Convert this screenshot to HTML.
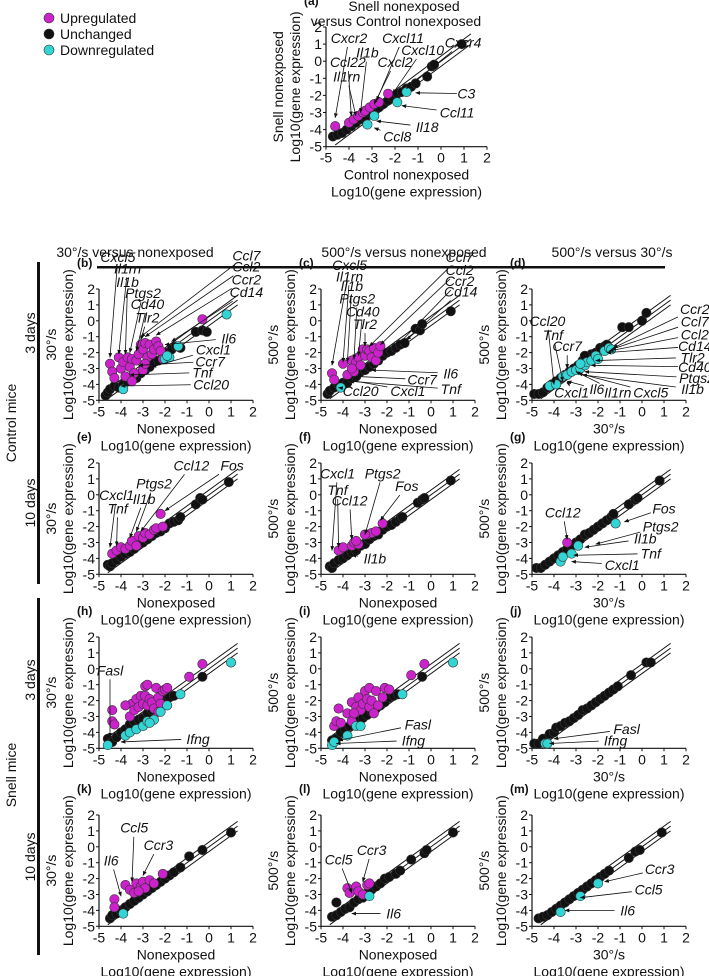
<!DOCTYPE html>
<html><head><meta charset="utf-8">
<style>
html,body{margin:0;padding:0;background:#fff;}
svg{display:block;font-family:"Liberation Sans",Arial,sans-serif;}
.tk{font-size:14px;fill:#111;}
.ti{font-size:14px;fill:#111;}
.an{font-size:14px;font-style:italic;fill:#111;}
.pl{font-size:12px;font-weight:bold;fill:#111;}
</style></head>
<body>
<svg id="fig" width="709" height="976" viewBox="0 0 709 976" xmlns="http://www.w3.org/2000/svg">
<defs><marker id="ah" viewBox="0 0 10 10" refX="9" refY="5" markerWidth="6" markerHeight="6" orient="auto-start-reverse"><path d="M0,1 L10,5 L0,9 z" fill="#111"/></marker></defs>
<g>
<circle cx="49" cy="18" r="5" fill="#cc22cc" stroke="#333" stroke-width="0.6"/><text x="60" y="23" class="ti">Upregulated</text>
<circle cx="49" cy="34" r="5" fill="#111" stroke="#333" stroke-width="0.6"/><text x="60" y="39" class="ti">Unchanged</text>
<circle cx="49" cy="50" r="5" fill="#33d4d4" stroke="#333" stroke-width="0.6"/><text x="60" y="55" class="ti">Downregulated</text>
</g>
<g>
<text x="135" y="257" text-anchor="middle" class="ti">30°/s versus nonexposed</text>
<text x="404" y="257" text-anchor="middle" class="ti">500°/s versus nonexposed</text>
<text x="612" y="257" text-anchor="middle" class="ti">500°/s versus 30°/s</text>
<rect x="97" y="266" width="568" height="2.5" fill="#111"/>
</g>
<g>
<rect x="37" y="262" width="3" height="322" fill="#111"/>
<rect x="37" y="598" width="3" height="357" fill="#111"/>
<text transform="translate(16,423) rotate(-90)" text-anchor="middle" class="ti">Control mice</text>
<text transform="translate(16,775) rotate(-90)" text-anchor="middle" class="ti">Snell mice</text>
<text transform="translate(35,333) rotate(-90)" text-anchor="middle" class="ti">3 days</text>
<text transform="translate(35,503) rotate(-90)" text-anchor="middle" class="ti">10 days</text>
<text transform="translate(35,680) rotate(-90)" text-anchor="middle" class="ti">3 days</text>
<text transform="translate(35,857) rotate(-90)" text-anchor="middle" class="ti">10 days</text>
</g>
</svg>
<script>
// ---- data (log10 gene expression: [x, y]) ----
const a_up=[[-4.6,-3.8],[-4,-3.6],[-3.8,-3.4],[-3.6,-3.2],[-3.4,-3],[-3.3,-2.9],[-3.1,-2.7],[-2.9,-2.5],[-2.7,-2.4],[-2.3,-1.9]];
const a_un=[[-4.7,-4.4],[-4.5,-4.3],[-4.3,-4.2],[-4.1,-4],[-3.9,-3.8],[-3.7,-3.6],[-3.5,-3.4],[-3.3,-3.3],[-3.1,-3],[-2.9,-2.9],[-2.7,-2.7],[-2.5,-2.5],[-2.3,-2.3],[-2.1,-2.1],[-1.9,-1.9],[-1.7,-1.8],[-1.5,-1.6],[-1.3,-1.5],[-1.1,-1.3],[-0.6,-0.9],[-0.4,-0.3],[-0.3,-0.2],[0.9,1]];
const a_dn=[[-1.5,-1.8],[-1.9,-2.4],[-2.9,-3.2],[-3.2,-3.7]];
const b_up=[[-4.5,-2.7],[-4.4,-3.2],[-4.3,-3.6],[-4.1,-2.3],[-4,-3],[-3.9,-2.6],[-3.8,-3.5],[-3.7,-2.3],[-3.6,-2.9],[-3.5,-2.4],[-3.4,-3.3],[-3.3,-2.5],[-3.2,-2.1],[-3.1,-1.5],[-3,-1.8],[-2.9,-1.4],[-2.8,-2.3],[-2.7,-1.5],[-2.6,-2.1],[-2.5,-1.8],[-2.4,-1.3],[-2.3,-1.6],[-2.2,-1.9],[-2.1,-2.4],[-0.3,0.1],[-3.5,-3.8],[-3,-3.1],[-2.9,-2.7]];
const b_un=[[-4.7,-4.7],[-4.6,-4.5],[-4.5,-4.3],[-4.3,-4.1],[-4.1,-4.2],[-3.9,-4],[-3.7,-3.8],[-3.5,-3.5],[-3.3,-3.6],[-3.1,-3.3],[-2.9,-3.1],[-2.7,-2.9],[-2.5,-2.6],[-2.3,-2.5],[-2.1,-2.2],[-1.9,-2],[-1.7,-1.8],[-1.5,-1.6],[-1.3,-1.7],[-0.6,-0.7],[-0.3,-0.6],[-0.1,-0.7]];
const b_dn=[[-3.9,-4.3],[-2,-2.4],[-1.8,-2.3],[-1.4,-1.6],[0.8,0.4],[-1.9,-2.2]];
const c_up=[[-4.5,-3.3],[-4.4,-3.7],[-4,-2.7],[-3.8,-3.4],[-3.6,-2.5],[-3.5,-3.2],[-3.4,-2.6],[-3.3,-2.3],[-3.2,-2.8],[-3.1,-1.8],[-3,-2.2],[-2.9,-1.8],[-2.8,-1.9],[-2.7,-2.3],[-2.6,-1.7],[-2.5,-2.5],[-2.4,-2],[-2.3,-1.6],[-3.6,-3]];
const c_un=[[-4.7,-4.6],[-4.6,-4.4],[-4.4,-4.2],[-4.2,-4],[-4,-3.9],[-3.8,-3.9],[-3.6,-3.6],[-3.4,-3.5],[-3.2,-3.2],[-3,-3.1],[-2.8,-2.9],[-2.6,-2.7],[-2.4,-2.5],[-2.2,-2.2],[-2,-2],[-1.8,-1.9],[-1.6,-1.7],[-1.4,-1.5],[-1.2,-1.4],[-0.7,-0.5],[-0.5,-0.6],[-0.4,-0.2],[0.9,0.6]];
const c_dn=[[-4.1,-4.2]];
const d_up=[];
const d_un=[[-4.9,-4.6],[-4.7,-4.6],[-4.5,-4.5],[-4.3,-4.2],[-4.1,-4],[-3.9,-3.8],[-3.7,-3.6],[-3.5,-3.4],[-3.3,-3.2],[-3.1,-3],[-2.9,-2.8],[-2.7,-2.5],[-2.5,-2.3],[-2.3,-2.1],[-2.1,-2],[-1.9,-1.7],[-1.7,-1.6],[-1.6,-1.5],[-0.9,-0.4],[-0.6,-0.4],[0,0],[0.2,0.5],[-2.6,-2.2]];
const d_dn=[[-4.2,-4.1],[-3.9,-4],[-3.6,-3.5],[-3.4,-3.4],[-3.2,-3.2],[-3,-3.1],[-2.8,-3],[-2.6,-2.8],[-2.5,-2.6],[-2.3,-2.5],[-2.1,-2.2],[-2,-2.4],[-1.7,-1.9],[-1.5,-1.7],[-1.4,-1.8],[-2.8,-2.7]];
const e_up=[[-4.4,-3.7],[-4.2,-3.5],[-4,-3.3],[-3.8,-3.4],[-3.6,-3.2],[-3.5,-2.9],[-3.3,-3.2],[-3.2,-2.6],[-3,-2.7],[-2.9,-2.4],[-2.7,-2.5],[-2.5,-2.2],[-2.4,-2.1],[-2.2,-1.2],[-2.1,-2]];
const e_un=[[-4.6,-4.4],[-4.5,-4.5],[-4.4,-4.3],[-4.2,-4.1],[-4,-3.9],[-3.8,-3.7],[-3.6,-3.6],[-3.4,-3.4],[-3.2,-3.1],[-3,-3],[-2.8,-2.8],[-2.6,-2.6],[-2.4,-2.4],[-2.2,-2.3],[-2,-2.1],[-1.8,-1.8],[-1.6,-1.7],[-1.4,-1.6],[-1.3,-1.4],[-0.6,-0.6],[-0.4,-0.2],[-0.3,-0.3],[0.9,0.8]];
const e_dn=[];
const f_up=[[-4.2,-3.5],[-4,-3.3],[-3.6,-3.2],[-3.5,-3],[-3.3,-3.1],[-3.4,-2.9],[-2.9,-2.5],[-2.7,-2.4],[-2.5,-2.3],[-2.2,-1.8],[-3,-2.5]];
const f_un=[[-4.6,-4.5],[-4.5,-4.6],[-4.4,-4.3],[-4.2,-4.1],[-4,-4],[-3.8,-3.8],[-3.6,-3.6],[-3.4,-3.5],[-3.2,-3.2],[-3,-3.1],[-2.8,-2.8],[-2.6,-2.6],[-2.4,-2.5],[-2.2,-2.2],[-2,-2],[-1.8,-1.9],[-1.6,-1.7],[-1.4,-1.5],[-1.3,-1.4],[-0.6,-0.5],[-0.4,-0.3],[-0.3,-0.2],[0.9,0.9]];
const f_dn=[];
const g_up=[[-3.4,-3]];
const g_un=[[-4.8,-4.6],[-4.6,-4.6],[-4.4,-4.4],[-4.2,-4.2],[-4,-4],[-3.8,-3.8],[-3.6,-3.6],[-3.4,-3.4],[-3.2,-3.2],[-3,-3],[-2.8,-2.8],[-2.6,-2.5],[-2.4,-2.4],[-2.2,-2.2],[-2,-2],[-1.8,-1.8],[-1.6,-1.6],[-1.4,-1.4],[-1.3,-1.2],[-0.6,-0.6],[-0.3,-0.3],[-0.2,-0.2],[0.8,0.9]];
const g_dn=[[-3.7,-4.2],[-3.6,-3.9],[-3.2,-3.7],[-2.9,-3.2],[-1.2,-1.8]];
const h_up=[[-4.4,-2.6],[-4.4,-3.3],[-4.3,-3.5],[-3.6,-3],[-3.5,-2.2],[-3.4,-2.6],[-3.3,-1.9],[-3.2,-2.4],[-3.1,-1.7],[-3,-2.2],[-2.9,-1.1],[-2.9,-1.7],[-2.8,-1],[-2.8,-2.3],[-2.7,-1.9],[-2.6,-2.1],[-2.5,-2.5],[-2.4,-1.2],[-2.3,-1.8],[-2.2,-2.2],[-2.1,-1.4],[-2,-1.3],[-1.9,-1.2],[-2.3,-2.7],[-0.9,-0.5],[-0.3,0.3],[-3.8,-2.3]];
const h_un=[[-4.6,-4.4],[-4.4,-4.6],[-4.2,-4.3],[-4,-4],[-3.8,-3.8],[-3.6,-3.5],[-3.4,-3.3],[-3.2,-3.2],[-3,-3.1],[-2.8,-2.8],[-2.6,-2.6],[-2.4,-2.4],[-2.2,-2.2],[-2,-1.9],[-1.8,-1.8],[-1.6,-1.7],[-0.3,-0.5]];
const h_dn=[[-4.6,-4.8],[-3.8,-4.2],[-3.6,-4],[-3.3,-3.8],[-3,-3.6],[-2.8,-3.3],[-2.5,-3.2],[-2.2,-2.7],[-1.9,-2.3],[-1.3,-1.6],[1,0.4],[-2.7,-3.4]];
const i_up=[[-4.4,-3.6],[-4.3,-3.3],[-4.2,-2.5],[-4.1,-3.4],[-3.8,-2.8],[-3.6,-3.3],[-3.6,-2.1],[-3.4,-2.4],[-3.3,-1.8],[-3.2,-2.6],[-3.1,-2.2],[-3,-1.4],[-2.9,-1.9],[-2.8,-1.2],[-2.8,-2.4],[-2.7,-2],[-2.6,-2.8],[-2.5,-1.4],[-2.4,-2.3],[-2.2,-1.8],[-2.1,-1.2],[-1.9,-1.3],[-0.9,-0.4],[-0.3,0.3],[-3.5,-2.8]];
const i_un=[[-4.5,-4.5],[-4.3,-4.4],[-4.1,-4],[-3.9,-3.8],[-3.7,-3.6],[-3.5,-3.4],[-3.3,-3.3],[-3.1,-3.1],[-2.9,-2.9],[-2.7,-2.7],[-2.5,-2.5],[-2.3,-2.3],[-2.1,-2.1],[-1.9,-1.8],[-1.7,-1.7],[-1.5,-1.6],[-0.4,-0.5]];
const i_dn=[[-4.5,-4.8],[-4.4,-4.6],[-3.8,-4.2],[-3.4,-3.6],[-3.2,-3.6],[-1.3,-1.6],[1,0.4]];
const j_up=[];
const j_un=[[-4.9,-4.7],[-4.7,-4.7],[-4.5,-4.4],[-4.2,-4.1],[-4,-4],[-3.9,-3.7],[-3.7,-3.6],[-3.5,-3.4],[-3.3,-3.3],[-3.1,-3.1],[-2.9,-2.9],[-2.7,-2.6],[-2.5,-2.5],[-2.3,-2.3],[-2.1,-2.1],[-1.9,-1.9],[-1.7,-1.7],[-1.5,-1.5],[-1.3,-1.3],[-1.1,-1.1],[-0.5,-0.4],[0.2,0.4],[0.4,0.4]];
const j_dn=[[-4.4,-4.7],[-4.3,-4.7]];
const k_up=[[-4.3,-3.3],[-4.3,-3.8],[-3.8,-2.4],[-3.6,-2.7],[-3.4,-2.9],[-3.3,-2.3],[-3.1,-2.5],[-3,-2.2],[-2.9,-2.6],[-2.7,-2.1],[-2.5,-2.3],[-2.1,-1.7],[-3.2,-2.8]];
const k_un=[[-4.5,-4.5],[-4.4,-4.3],[-4.2,-4.2],[-4,-4],[-3.8,-3.8],[-3.6,-3.6],[-3.4,-3.4],[-3.2,-3.2],[-3,-3],[-2.8,-2.8],[-2.6,-2.6],[-2.4,-2.4],[-2.2,-2.2],[-2,-2],[-1.8,-1.8],[-1.6,-1.6],[-1.3,-1.3],[-0.9,-0.6],[-0.3,-0.2],[1,0.9]];
const k_dn=[[-3.9,-4.2]];
const l_up=[[-3.8,-2.6],[-3.7,-2.9],[-3.4,-2.5],[-3.3,-2.8],[-2.9,-2.4],[-2.8,-2.3],[-3.1,-3]];
const l_un=[[-4.5,-4.4],[-4.3,-3.5],[-4.3,-4.3],[-4.1,-4.1],[-3.9,-3.9],[-3.7,-3.8],[-3.5,-3.5],[-3.3,-3.3],[-3.1,-3.2],[-2.9,-2.9],[-2.7,-2.7],[-2.5,-2.5],[-2.3,-2.3],[-2.1,-2],[-1.9,-1.9],[-1.6,-1.7],[-1.4,-1.5],[-0.9,-0.8],[-0.3,-0.4],[-0.2,-0.2],[1,0.9]];
const l_dn=[[-2.8,-3.1]];
const m_up=[];
const m_un=[[-4.7,-4.5],[-4.5,-4.4],[-4.3,-4.3],[-4.1,-4.1],[-3.9,-3.9],[-3.7,-3.7],[-3.5,-3.5],[-3.3,-3.3],[-3.1,-3.1],[-2.9,-2.9],[-2.7,-2.7],[-2.5,-2.5],[-2.3,-2.3],[-2.1,-2.1],[-1.9,-1.9],[-1.7,-1.7],[-1.5,-1.5],[-0.6,-0.7],[-0.3,-0.3],[-0.1,-0.2],[0.9,0.9]];
const m_dn=[[-3.7,-4.1],[-2.8,-3.1],[-2,-2.3]];
// annotations: [label, text x, text y, arrow x, arrow y] in data units
const a_ann=[["Cxcr2",-4,1.36,-4.6,-3.3],["Ccl22",-4.05,-0.05,-3.9,-3.2],["Il1rn",-4.1,-0.9,-3.7,-3.2],["Il1b",-3.2,0.5,-3.5,-3],["Cxcl11",-1.65,1.36,-2.8,-2.3],["Cxcl2",-2,-0.05,-2.9,-2.5],["Cxcl10",-0.8,0.65,-2.1,-1.9],["Cxcr4",0.96,1.1,-1.5,-1.6],["C3",1.1,-1.9,-1.1,-1.85],["Ccl11",0.7,-3,-1.7,-2.6],["Il18",-0.6,-3.85,-2.8,-3.5],["Ccl8",-1.9,-4.4,-2.9,-3.9]];
const b_ann=[["Cxcl5",-4.14,4,-4.5,-2.3],["Il1rn",-3.7,3.3,-4.1,-2.1],["Il1b",-3.7,2.45,-3.8,-2.1],["Ptgs2",-3,1.75,-3.6,-2],["Cd40",-2.8,1.05,-3.3,-1.9],["Tlr2",-2.8,0.2,-3.1,-1.2],["Ccl7",1.7,4.1,-3.1,-1],["Ccl2",1.7,3.4,-2.9,-1],["Ccr2",1.7,2.6,-2.4,-0.9],["Cd14",1.7,1.8,-1.7,-1.3],["Il6",0.9,-1.1,-2,-1.5],["Cxcl1",0.2,-1.8,-2.6,-2.9],["Ccr7",0.05,-2.55,-3.2,-2.8],["Tnf",-0.3,-3.25,-3.6,-3.4],["Ccl20",0.1,-4,-4,-4.1]];
const c_ann=[["Cxcl5",-3.7,3.5,-4.5,-2.8],["Il1rn",-3.7,2.8,-4,-2.6],["Il1b",-3.6,2.2,-3.8,-2.6],["Ptgs2",-3.35,1.4,-3.5,-2.4],["Cd40",-3.1,0.6,-3.3,-2.2],["Tlr2",-3,-0.2,-3,-1.6],["Ccl7",1.3,4,-2.8,-1.6],["Ccl2",1.3,3.2,-2.3,-1.5],["Ccr2",1.3,2.5,-1.5,-1.5],["Cd14",1.35,1.85,-1.1,-1.2],["Il6",0.9,-3.3,-2.7,-3.1],["Ccr7",-0.4,-3.7,-3.4,-3.5],["Tnf",0.9,-4.3,-3.7,-3.8],["Cxcl1",-1.05,-4.4,-3.8,-3.7],["Ccl20",-3.2,-4.4,-4.2,-4.2]];
const d_ann=[["Ccl20",-4.3,0,-4,-4],["Tnf",-4.05,-0.9,-3.6,-3.8],["Ccr7",-3.4,-1.6,-3.4,-3],["Ccr2",2.4,0.75,-1.3,-1.7],["Ccl7",2.4,-0.05,-1.4,-1.8],["Ccl2",2.4,-0.85,-1.5,-1.9],["Cd14",2.4,-1.6,-1.6,-2],["Tlr2",2.3,-2.3,-2.1,-2.5],["Cd40",2.4,-2.9,-2.3,-2.8],["Ptgs2",2.5,-3.6,-2.6,-3.2],["Il1b",2.3,-4.3,-2.7,-3.4],["Cxcl5",0.4,-4.5,-2.9,-3.3],["Il1rn",-1.1,-4.5,-3,-3.2],["Il6",-2.05,-4.3,-3.4,-3.8],["Cxcl1",-3.2,-4.5,-3.3,-4.1]];
const e_ann=[["Cxcl1",-4.2,0,-4.5,-3.3],["Tnf",-4.15,-0.85,-4.2,-3.2],["Il1b",-2.95,-0.25,-3.6,-2.7],["Ptgs2",-2.5,0.7,-3.3,-2.3],["Ccl12",-0.8,1.85,-3.1,-2.3],["Fos",1.05,1.85,-2,-1]];
const f_ann=[["Cxcl1",-4.25,1.35,-4.5,-3.5],["Tnf",-4.25,0.3,-4.2,-3.3],["Ccl12",-3.7,-0.35,-3.6,-2.8],["Ptgs2",-2.2,1.35,-3,-2.5],["Fos",-1.1,0.55,-2.3,-1.6],["Il1b",-2.55,-4,-3.6,-3.8]];
const g_ann=[["Ccl12",-3.6,-1.1,-3.4,-2.8],["Fos",1,-0.85,-0.8,-1.7],["Ptgs2",0.85,-2,-2.1,-3.1],["Il1b",0.15,-2.75,-2.6,-3.3],["Tnf",0.4,-3.7,-3.1,-3.8],["Cxcl1",-0.9,-4.4,-3.2,-4.2]];
const h_ann=[["Fasl",-4.5,-0.1,-4.5,-4.3],["Ifng",-0.5,-4.4,-4,-4.6]];
const i_ann=[["Fasl",-0.6,-3.5,-4.2,-4.5],["Ifng",-0.8,-4.5,-4.3,-4.7]];
const j_ann=[["Fasl",-0.7,-3.8,-4,-4.4],["Ifng",-1.2,-4.5,-4.2,-4.7]];
const k_ann=[["Ccl5",-3.4,1.2,-3.5,-2.2],["Ccr3",-2.3,0.1,-3,-1.8],["Il6",-4.45,-0.85,-4,-3.1]];
const l_ann=[["Ccl5",-4.2,-0.8,-3.6,-2.9],["Ccr3",-2.7,-0.2,-3.1,-2.2],["Il6",-1.7,-4.2,-3.6,-4.2]];
const m_ann=[["Ccr3",0.8,-1.4,-1.7,-2.2],["Ccl5",0.3,-2.7,-2.8,-3.2],["Il6",-0.65,-4,-3.5,-4]];
const ticks=[-5,-4,-3,-2,-1,0,1,2];

const NS="http://www.w3.org/2000/svg";
const svg=document.getElementById("fig");
function mk(tag,attrs,parent,txt){const e=document.createElementNS(NS,tag);for(const k in attrs)e.setAttribute(k,attrs[k]);if(txt!==undefined)e.textContent=txt;parent.appendChild(e);return e;}
const COL={up:"#cc22cc",un:"#111111",dn:"#33d4d4"};

function panel(id,x0,xs,y2,ys,letter,xt,yt,up,un,dn,ann){
  const X=v=>x0+(v+5)*xs, Y=v=>y2+(2-v)*ys;
  const g=mk("g",{},svg);
  
  
  const pl=mk("text",{x:x0-22,y:y2-22,class:"pl"},g,"("+letter+")");
  
  
  const ax=mk("path",{d:`M${X(-5)},${Y(2)} L${X(-5)},${Y(-5)} L${X(2)},${Y(-5)}`,fill:"none",stroke:"#111","stroke-width":1.2},g);
  
  
  ticks.forEach(t=>{
    mk("line",{x1:X(t),x2:X(t),y1:Y(-5),y2:Y(-5)+3,stroke:"#111"},g);
    mk("line",{x1:X(-5)-3,x2:X(-5),y1:Y(t),y2:Y(t),stroke:"#111"},g);
    const tx=mk("text",{x:X(t),y:Y(-5)+16,"text-anchor":"middle",class:"tk"},g,String(t));
    
    
    const ty=mk("text",{x:X(-5)-4,y:Y(t)+5,"text-anchor":"end",class:"tk"},g,String(t));
    
    
  });
  const xm=X(-1.5), ym=Y(-1.5);
  const xl1=mk("text",{x:xm,y:Y(-5)+33,"text-anchor":"middle",class:"ti"},g,xt);
  
  
  const xl2=mk("text",{x:xm,y:Y(-5)+50,"text-anchor":"middle",class:"ti"},g,"Log10(gene expression)");
  
  
  const yl1=mk("text",{transform:`translate(${X(-5)-43},${ym}) rotate(-90)`,"text-anchor":"middle",class:"ti"},g,yt);
  
  
  const yl2=mk("text",{transform:`translate(${X(-5)-26},${ym}) rotate(-90)`,"text-anchor":"middle",class:"ti"},g,"Log10(gene expression)");
  
  
  [-0.3,0,0.3].forEach(o=>{
    const ln=mk("line",{x1:X(-4.6),y1:Y(-4.6+o),x2:X(1.3),y2:Y(1.3+o),stroke:"#111","stroke-width":1},g);
    
    
  });
  [["un",un],["up",up],["dn",dn]].forEach(([k,arr])=>{
    arr.forEach(p=>{
      const c=mk("circle",{cx:X(p[0]),cy:Y(p[1]),r:4.7,fill:COL[k],stroke:"#333","stroke-width":0.6},g);
      
      
    });
  });
  ann.forEach(a=>{
    const tx=X(a[1]),ty=Y(a[2]),axp=X(a[3]),ayp=Y(a[4]);
    const w=a[0].length*7.4/2+2,h=9;
    const dx=axp-tx,dy=ayp-ty;
    const s=Math.min(Math.abs(dx)>0.01?w/Math.abs(dx):1e9,Math.abs(dy)>0.01?h/Math.abs(dy):1e9);
    const sx=tx+dx*s,sy=ty+dy*s;
    const ln=mk("line",{x1:sx,y1:sy,x2:axp,y2:ayp,stroke:"#111","stroke-width":0.8,"marker-end":"url(#ah)"},g);
    
    
    const t=mk("text",{x:tx,y:ty+5,"text-anchor":"middle",class:"an"},g,a[0]);
    
    
  });
}
panel("a",326,23,27,17.1,"a","Control nonexposed","Snell nonexposed",a_up,a_un,a_dn,a_ann);
const at1=mk("text",{x:404,y:11,"text-anchor":"middle",class:"ti"},svg,"Snell nonexposed");


const at2=mk("text",{x:396,y:26,"text-anchor":"middle",class:"ti"},svg,"versus Control nonexposed");



const cx=[99,321,532], ry=[289,463,637,815], XS=22, YS=15.9;
const xts=["Nonexposed","Nonexposed","30°/s"], yts=["30°/s","500°/s","500°/s"];
const P=[["b",b_up,b_un,b_dn,b_ann],["c",c_up,c_un,c_dn,c_ann],["d",d_up,d_un,d_dn,d_ann],
["e",e_up,e_un,e_dn,e_ann],["f",f_up,f_un,f_dn,f_ann],["g",g_up,g_un,g_dn,g_ann],
["h",h_up,h_un,h_dn,h_ann],["i",i_up,i_un,i_dn,i_ann],["j",j_up,j_un,j_dn,j_ann],
["k",k_up,k_un,k_dn,k_ann],["l",l_up,l_un,l_dn,l_ann],["m",m_up,m_un,m_dn,m_ann]];
P.forEach((p,idx)=>{const c=idx%3,r=Math.floor(idx/3);
  panel(p[0],cx[c],XS,ry[r],YS,p[0],xts[c],yts[c],p[1],p[2],p[3],p[4]);});
</script>
</body></html>
